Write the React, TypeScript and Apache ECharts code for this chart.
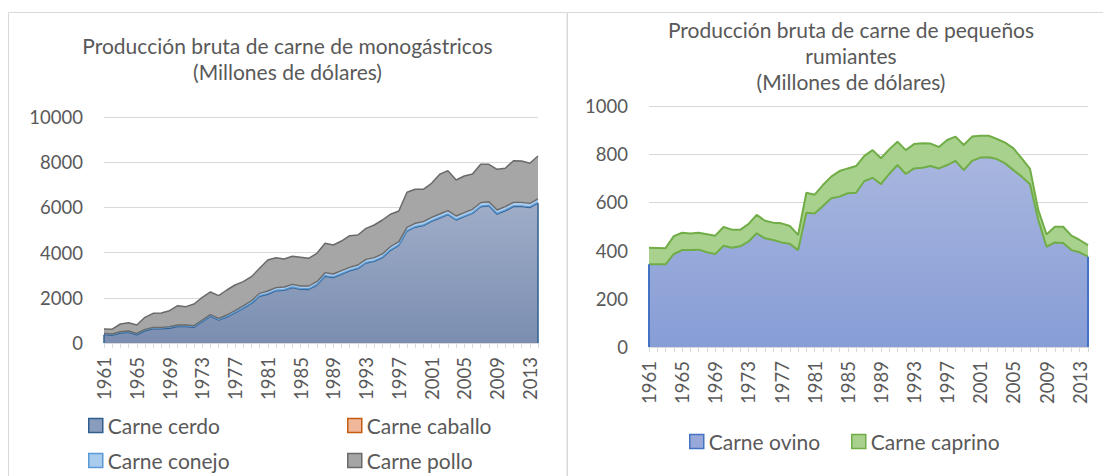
import React, { useEffect, useRef } from "react";
import * as echarts from "echarts";

const years: string[] = [
  "1961","1962","1963","1964","1965","1966","1967","1968","1969","1970",
  "1971","1972","1973","1974","1975","1976","1977","1978","1979","1980",
  "1981","1982","1983","1984","1985","1986","1987","1988","1989","1990",
  "1991","1992","1993","1994","1995","1996","1997","1998","1999","2000",
  "2001","2002","2003","2004","2005","2006","2007","2008","2009","2010",
  "2011","2012","2013","2014",
];

const cerdo = [
  368, 338, 441, 466, 363, 540, 628, 628, 653, 727,
  727, 697, 943, 1174, 1007, 1144, 1326, 1525, 1745, 2063,
  2156, 2303, 2327, 2446, 2372, 2367, 2559, 2952, 2893, 3035,
  3188, 3292, 3537, 3611, 3775, 4100, 4313, 4945, 5121, 5194,
  5381, 5528, 5676, 5440, 5587, 5730, 6024, 6068, 5700, 5847,
  6034, 6034, 5990, 6182,
];
const caballo = [
  35, 35, 35, 35, 35, 35, 35, 35, 35, 35,
  35, 35, 35, 35, 35, 35, 35, 35, 35, 35,
  35, 35, 35, 35, 35, 35, 35, 35, 35, 35,
  30, 30, 30, 30, 30, 30, 30, 30, 30, 30,
  30, 30, 30, 30, 30, 30, 30, 30, 35, 35,
  40, 40, 40, 40,
];
const conejo = [
  25, 25, 25, 30, 30, 30, 30, 30, 35, 35,
  35, 35, 40, 45, 50, 60, 70, 80, 90, 100,
  110, 110, 115, 115, 115, 120, 120, 125, 125, 130,
  130, 130, 135, 135, 135, 140, 140, 145, 145, 145,
  150, 150, 150, 150, 150, 155, 155, 155, 150, 150,
  150, 150, 150, 150,
];
const pollo = [
  192, 211, 340, 369, 369, 531, 620, 635, 708, 855,
  811, 959, 1002, 1003, 1003, 1106, 1136, 1074, 1065, 1106,
  1372, 1328, 1240, 1239, 1268, 1224, 1254, 1298, 1284, 1313,
  1401, 1327, 1372, 1445, 1503, 1430, 1358, 1548, 1505, 1432,
  1506, 1757, 1770, 1593, 1623, 1563, 1698, 1654, 1801, 1698,
  1843, 1828, 1771, 1903,
];

const ovino = [
  343, 343, 343, 386, 402, 402, 404, 393, 386, 420,
  412, 418, 437, 472, 451, 444, 434, 428, 402, 557,
  554, 585, 617, 624, 638, 640, 689, 702, 676, 718,
  755, 718, 741, 744, 751, 741, 755, 772, 734, 772,
  786, 787, 780, 762, 734, 707, 675, 527, 416, 434,
  432, 402, 393, 375,
];
const caprino = [
  69, 68, 67, 74, 72, 69, 70, 75, 76, 78,
  75, 68, 73, 76, 73, 72, 79, 74, 63, 83,
  78, 87, 90, 106, 103, 111, 104, 115, 107, 102,
  97, 99, 101, 101, 93, 89, 104, 101, 104, 101,
  91, 90, 83, 86, 90, 76, 64, 41, 51, 65,
  67, 60, 51, 48,
];

const leftTicks = { min: 0, max: 10000, interval: 2000 };
const rightTicks = { min: 0, max: 1000, interval: 200 };

const FONT = "Lato";
const GRAY = "#595959";
const GRID = "#d9d9d9";

const grad = (top: string, bottom: string) =>
  new echarts.graphic.LinearGradient(0, 0, 0, 1, [
    { offset: 0, color: top },
    { offset: 1, color: bottom },
  ]);

export default function App() {
  const ref = useRef<HTMLDivElement>(null);
  useEffect(() => {
    if (!ref.current) return;
    const chart = echarts.init(ref.current, null, { renderer: "svg" });
    const last = years[years.length - 1];
    const first = years[0];

    const xAxisBase = (gridIndex: number) => ({
      type: "category",
      gridIndex,
      data: years,
      boundaryGap: false,
      axisLine: { lineStyle: { color: GRID, width: 1 } },
      axisTick: { show: true, interval: 0, length: 5, lineStyle: { color: GRID } },
      axisLabel: {
        interval: 3,
        rotate: 90,
        margin: 14,
        color: GRAY,
        fontFamily: FONT,
        fontSize: 18.5,
      },
    });
    const yAxisBase = (gridIndex: number, t: any) => ({
      type: "value",
      gridIndex,
      min: t.min,
      max: t.max,
      interval: t.interval,
      axisLine: { show: false },
      axisTick: { show: false },
      splitLine: { lineStyle: { color: GRID, width: 1 } },
      axisLabel: {
        color: GRAY,
        fontFamily: FONT,
        fontSize: 18.5,
        margin: 21,
        formatter: (v: number) => String(v),
      },
    });

    const areaSeries = (
      name: string,
      data: number[],
      stack: string,
      idx: number,
      fill: any,
      border: string,
      width = 1.3
    ) => ({
      name,
      type: "line",
      stack,
      xAxisIndex: idx,
      yAxisIndex: idx,
      data,
      symbol: "none",
      lineStyle: { color: border, width },
      itemStyle: { color: border },
      areaStyle: { color: fill, opacity: 1 },
    });

    const legendText = { color: GRAY, fontFamily: FONT, fontSize: 21 };
    const mkLegend = (name: string, fill: string, border: string, left: number, top: number) => ({
      left,
      top,
      padding: 0,
      itemWidth: 14,
      itemHeight: 14,
      icon: "rect",
      textStyle: legendText,
      data: [{ name, icon: "rect", itemStyle: { color: fill, borderColor: border, borderWidth: 1.5 } }],
    });

    const titleStyle = { color: GRAY, fontFamily: FONT, fontSize: 21, fontWeight: "normal", lineHeight: 26 };

    chart.setOption({
      animation: false,
      backgroundColor: "#ffffff",
      title: [
        {
          text: "Producción bruta de carne de monogástricos\n(Millones de dólares)",
          left: 287.5,
          top: 32,
          padding: 0,
          textAlign: "center",
          textStyle: titleStyle,
        },
        {
          text: "Producción bruta de carne de pequeños\nrumiantes\n(Millones de dólares)",
          left: 851,
          top: 16,
          padding: 0,
          textAlign: "center",
          textStyle: titleStyle,
        },
      ],
      legend: [
        mkLegend("Carne cerdo", "#8a9cbd", "#2f5f8f", 88, 415),
        mkLegend("Carne caballo", "#f0b89a", "#c55a11", 347, 415),
        mkLegend("Carne conejo", "#a9cbee", "#5b9bd5", 88, 450),
        mkLegend("Carne pollo", "#a5a5a5", "#6a6a6a", 347, 450),
        mkLegend("Carne ovino", "#98a9d9", "#4472c4", 689, 431),
        mkLegend("Carne caprino", "#a9d18e", "#70ad47", 851, 431),
      ],
      grid: [
        { left: 104, right: 565, top: 117, bottom: 133 },
        { left: 649, right: 15, top: 106, bottom: 129 },
      ],
      xAxis: [xAxisBase(0), xAxisBase(1)],
      yAxis: [yAxisBase(0, leftTicks), yAxisBase(1, rightTicks)],
      series: [
        {
          ...areaSeries("Carne cerdo", cerdo, "m", 0, grad("#9fadc8", "#7b8eb1"), "#2f5f8f", 1.3),
          markLine: {
            symbol: "none",
            silent: true,
            label: { show: false },
            lineStyle: { color: "#2f5f8f", width: 1.5, type: "solid" },
            data: [
              [{ coord: [first, 0] }, { coord: [first, cerdo[0]] }],
              [{ coord: [last, 0] }, { coord: [last, cerdo[cerdo.length - 1]] }],
            ],
          },
        },
        areaSeries("Carne caballo", caballo, "m", 0, "#f0b89a", "#5b9bd5", 1.2),
        areaSeries("Carne conejo", conejo, "m", 0, "#a9cbee", "#6a6a6a", 1.4),
        areaSeries("Carne pollo", pollo, "m", 0, "#a6a6a6", "#6a6a6a", 1.5),
        {
          ...areaSeries("Carne ovino", ovino, "r", 1, grad("#a8b6df", "#879dd6"), "#70ad47", 2),
          markLine: {
            symbol: "none",
            silent: true,
            label: { show: false },
            lineStyle: { color: "#4472c4", width: 2, type: "solid" },
            data: [
              [{ coord: [first, 0] }, { coord: [first, ovino[0]] }],
              [{ coord: [last, 0] }, { coord: [last, ovino[ovino.length - 1]] }],
            ],
          },
        },
        areaSeries("Carne caprino", caprino, "r", 1, "#a9d18e", "#70ad47", 2),
      ],
      graphic: [
        {
          type: "rect",
          silent: true,
          shape: { x: 8.5, y: 12.5, width: 558.5, height: 480 },
          style: { fill: "none", stroke: GRID, lineWidth: 1 },
        },
        {
          type: "rect",
          silent: true,
          shape: { x: 567.5, y: 12.5, width: 560, height: 480 },
          style: { fill: "none", stroke: GRID, lineWidth: 1 },
        },
      ],
    });
    return () => chart.dispose();
  }, []);
  return (
    <div
      ref={ref}
      style={{ position: "absolute", left: 0, top: 0, width: 1103, height: 476 }}
    />
  );
}
